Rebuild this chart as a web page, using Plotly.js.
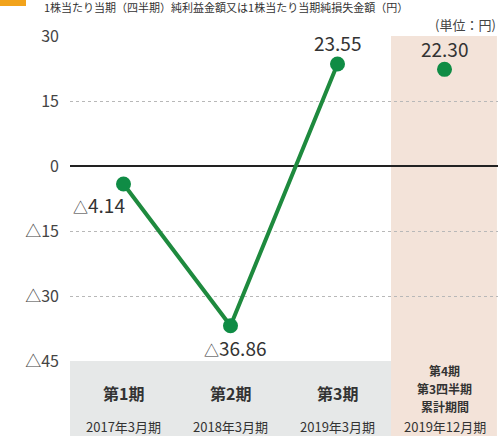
<!DOCTYPE html>
<html><head><meta charset="utf-8">
<script src="https://cdn.plot.ly/plotly-3.0.1.min.js"></script>
<style>html,body{margin:0;padding:0;background:#fff;}#c{width:502px;height:436px;}</style>
</head><body><div id="c"></div>
<script>
const categories = ["第1期", "第2期", "第3期", "第4期<br>第3四半期<br>累計期間"];
const periods = ["2017年3月期", "2018年3月期", "2019年3月期", "2019年12月期"];
const values = [-4.14, -36.86, 23.55, 22.30];
const valueLabels = ["△4.14", "△36.86", "23.55", "22.30"];
const tickVals = [30, 15, 0, -15, -30, -45];
const tickText = ["30", "15", "0", "△15", "△30", "△45"];
const titleText = "1株当たり当期（四半期）純利益金額又は1株当たり当期純損失金額（円）";
const unitText = "(単位：円)";

const F = "Noto Sans CJK JP, Noto Sans, sans-serif";
const xIdx = categories.map((_, i) => i);
const PH = 325, PB = 361;
const py = p => (PB - p) / PH;
const labelShift = [[-25, -21], [4, -22], [0, 21], [0, 21]];
const tri = s => s.replace("△", "<span style='font-size:15px'>△</span>");

const lineTrace = {
  x: xIdx.slice(0, 3), y: values.slice(0, 3), type: "scatter", mode: "lines",
  line: {color: "#1e8a3e", width: 4}, hoverinfo: "skip", cliponaxis: false
};
const markerTrace = {
  x: xIdx, y: values, type: "scatter", mode: "markers",
  marker: {color: "#0f8c45", size: 15}, cliponaxis: false
};

const annotations = [];
values.forEach((v, i) => {
  annotations.push({x: i, y: v, xref: "x", yref: "y", text: tri(valueLabels[i]),
    showarrow: false, xshift: labelShift[i][0], yshift: labelShift[i][1],
    font: {family: F, size: 19, color: "#333"}});
});
categories.forEach((c, i) => {
  const lines = c.split("<br>");
  const multi = lines.length > 1;
  const ys = multi ? [370, 388, 406] : [393];
  lines.forEach((t, k) => {
    annotations.push({x: i, xref: "x", y: py(ys[k]), yref: "paper",
      text: "<b>" + t + "</b>", showarrow: false, yanchor: "middle",
      font: {family: F, size: multi ? 12 : 16, color: "#333"}});
  });
  annotations.push({x: i, xref: "x", y: py(426), yref: "paper", text: periods[i],
    showarrow: false, yanchor: "middle", font: {family: F, size: 13, color: "#333"}});
});
annotations.push({x: 1, xref: "paper", xanchor: "right", y: py(24), yref: "paper", yanchor: "middle",
  text: unitText, showarrow: false, font: {family: F, size: 13, color: "#444"}});
annotations.push({x: (42 - 70) / 428, xref: "paper", y: py(7), yref: "paper", yanchor: "middle",
  xanchor: "left", text: titleText, showarrow: false, font: {family: F, size: 11, color: "#333"}});

const layout = {
  width: 502, height: 436,
  margin: {l: 70, r: 4, t: 36, b: 75},
  paper_bgcolor: "#fff", plot_bgcolor: "rgba(0,0,0,0)",
  showlegend: false,
  xaxis: {range: [-0.5, 3.5], showgrid: false, zeroline: false, showticklabels: false,
    showline: false, fixedrange: true},
  yaxis: {range: [-45, 30], tickvals: tickVals, ticktext: tickText,
    tickfont: {family: F, size: 16, color: "#444"}, ticks: "", ticklen: 0, ticklabelstandoff: 10,
    showgrid: true, gridcolor: "#b8b8b8", griddash: "dot", gridwidth: 1,
    zeroline: true, zerolinecolor: "#222", zerolinewidth: 2, showline: false},
  shapes: [
    {type: "rect", xref: "x", yref: "paper", x0: -0.54, x1: 2.5, y0: py(436), y1: 0,
      fillcolor: "#e6e8e8", line: {width: 0}, layer: "below"},
    {type: "rect", xref: "x", yref: "paper", x0: 2.5, x1: 3.49, y0: py(436), y1: 1,
      fillcolor: "#f3e3d9", line: {width: 0}, layer: "below"},
    {type: "rect", xref: "paper", yref: "paper", x0: (0 - 70) / 428, x1: (26 - 70) / 428,
      y0: py(6), y1: py(0), fillcolor: "#f2a31b", line: {width: 0}}
  ],
  annotations: annotations
};

Plotly.newPlot("c", [lineTrace, markerTrace], layout, {displayModeBar: false, staticPlot: true});
</script></body></html>
